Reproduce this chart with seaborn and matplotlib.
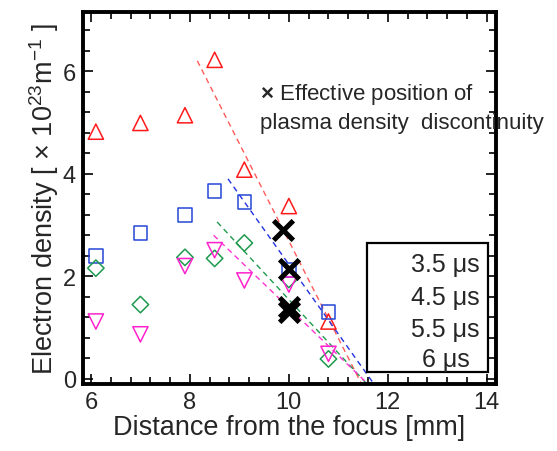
import matplotlib
matplotlib.use("Agg")
import matplotlib.pyplot as plt
from matplotlib.patches import Rectangle
from matplotlib.ticker import MultipleLocator
import seaborn as sns
import pandas as pd

# measured positions [mm]
distance = [6.1, 7.0, 7.9, 8.5, 9.1, 10.0, 10.8]

# electron density [x 10^23 m^-1] for each delay
dens_35 = [4.82, 4.99, 5.14, 6.22, 4.08, 3.37, 1.12]
dens_45 = [2.40, 2.84, 3.20, 3.66, 3.45, 2.12, 1.31]
dens_55 = [2.16, 1.45, 2.37, 2.35, 2.65, 1.94, 0.39]
dens_60 = [1.12, 0.87, 2.20, 2.51, 1.92, 1.84, 0.49]

delay_labels = ["3.5 μs", "4.5 μs", "5.5 μs", "6 μs"]

# dashed fits near the discontinuity (start -> end)
fit_x0 = [8.15, 8.77, 8.55, 8.48]
fit_y0 = [6.20, 3.90, 3.06, 2.80]
fit_x1 = [11.47, 11.72, 11.58, 11.60]
fit_y1 = [-0.10, -0.10, -0.10, -0.10]

# effective position of the discontinuity
disc_x = [9.88, 10.0, 10.0, 10.0]
disc_y = [2.90, 2.15, 1.41, 1.31]

marker_list = ["^", "s", "D", "v"]
point_colors = ["#ff1a1a", "#2446d6", "#1e9a4e", "#ff22cc"]
fit_colors = ["#ff5a5a", "#2233e0", "#1f9a50", "#ff33d6"]

sns.set_theme(style="ticks")
plt.rcParams["font.family"] = ["Liberation Sans", "DejaVu Sans"]
plt.rcParams["mathtext.fontset"] = "custom"
plt.rcParams["mathtext.rm"] = "Liberation Sans"
plt.rcParams["mathtext.it"] = "Liberation Sans:italic"
plt.rcParams["mathtext.bf"] = "Liberation Sans:bold"

fig = plt.figure(figsize=(5.57, 4.52), dpi=100)
ax = fig.add_axes([0.149, 0.148, 0.741, 0.823])

series = [dens_35, dens_45, dens_55, dens_60]
for i, dens in enumerate(series):
    fit = pd.DataFrame({"x": [fit_x0[i], fit_x1[i]], "y": [fit_y0[i], fit_y1[i]]})
    sns.lineplot(data=fit, x="x", y="y", ax=ax, color=fit_colors[i],
                 linewidth=1.0, dashes=False, linestyle=(0, (4, 3)), zorder=2)

for i, dens in enumerate(series):
    df = pd.DataFrame({"x": distance, "y": dens})
    ms = 120 if marker_list[i] in ("^", "v") else 95
    if marker_list[i] == "D":
        ms = 70
    sns.scatterplot(data=df, x="x", y="y", ax=ax, marker=marker_list[i], s=ms,
                    facecolor="none", edgecolor=point_colors[i], linewidth=1.1,
                    zorder=3)

dfx = pd.DataFrame({"x": disc_x, "y": disc_y})
sns.scatterplot(data=dfx, x="x", y="y", ax=ax, marker="x", s=200,
                color="black", linewidth=3.6, zorder=4)

ax.set_xlim(5.84, 14.18)
ax.set_ylim(-0.1, 7.15)
ax.xaxis.set_major_locator(MultipleLocator(2))
ax.xaxis.set_minor_locator(MultipleLocator(0.4))
ax.yaxis.set_major_locator(MultipleLocator(2))
ax.yaxis.set_minor_locator(MultipleLocator(0.4))
ax.tick_params(which="both", direction="in", top=True, right=True,
               width=1.2, color="black", labelsize=17, pad=5)
ax.tick_params(which="major", length=7)
ax.tick_params(which="minor", length=5)
for sp in ax.spines.values():
    sp.set_visible(True)
    sp.set_linewidth(2.8)
    sp.set_color("black")

ax.set_xlabel("Distance from the focus [mm]", fontsize=19.5, labelpad=1)
ax.set_ylabel(r"Electron density [ $\times$ 10$^{23}$m$^{-1}$ ]", fontsize=19.5,
              labelpad=1)

ax.text(0.428, 0.745, "$\\mathbf{\\times}$ Effective position of\nplasma density  discontinuity",
        transform=ax.transAxes, ha="left", va="center", fontsize=16,
        linespacing=1.4, clip_on=False, zorder=5)

ax.add_patch(Rectangle((0.688, 0.032), 0.293, 0.347, transform=ax.transAxes,
                       fill=True, facecolor="white", edgecolor="black",
                       linewidth=1.6, zorder=5))
label_y = [0.323, 0.234, 0.148, 0.067]
for lab, yy in zip(delay_labels, label_y):
    ax.text(0.878, yy, lab, transform=ax.transAxes, ha="center", va="center",
            fontsize=18, zorder=6)

fig.savefig("out.png", dpi=100)
